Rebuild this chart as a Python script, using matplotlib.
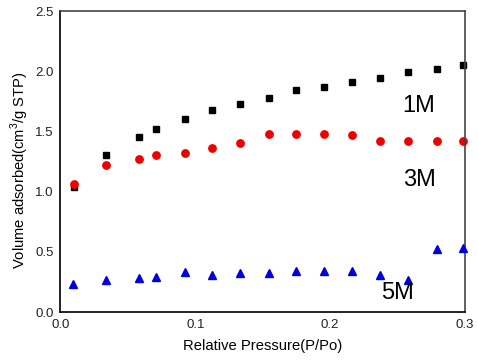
import matplotlib
matplotlib.use("Agg")
import matplotlib.pyplot as plt

plt.rcParams['font.family'] = ['Liberation Sans', 'DejaVu Sans']
plt.rcParams['mathtext.fontset'] = 'custom'
plt.rcParams['mathtext.rm'] = 'Liberation Sans'

p_1m = [0.010, 0.034, 0.0585, 0.071, 0.0926, 0.1126, 0.133, 0.155, 0.175, 0.1955, 0.216, 0.237, 0.258, 0.279, 0.2985]
v_1m = [1.04, 1.30, 1.45, 1.52, 1.60, 1.68, 1.73, 1.78, 1.84, 1.87, 1.91, 1.94, 1.99, 2.02, 2.05]

p_3m = [0.010, 0.034, 0.0585, 0.071, 0.0926, 0.1126, 0.133, 0.155, 0.175, 0.1955, 0.216, 0.237, 0.258, 0.279, 0.2985]
v_3m = [1.06, 1.22, 1.27, 1.30, 1.32, 1.36, 1.40, 1.48, 1.48, 1.48, 1.47, 1.42, 1.42, 1.42, 1.42]

p_5m = [0.0096, 0.034, 0.0585, 0.071, 0.0926, 0.1126, 0.133, 0.155, 0.175, 0.1955, 0.216, 0.237, 0.258, 0.279, 0.2985]
v_5m = [0.23, 0.27, 0.28, 0.29, 0.33, 0.31, 0.32, 0.32, 0.34, 0.34, 0.34, 0.31, 0.27, 0.52, 0.53]

series_labels = ["1M", "3M", "5M"]
xticks = [0.0, 0.1, 0.2, 0.3]
yticks = [0.0, 0.5, 1.0, 1.5, 2.0, 2.5]

fig = plt.figure(figsize=(4.78, 3.61), dpi=100)
ax = fig.add_axes([0.1265, 0.1357, 0.8463, 0.8338])

ax.plot(p_1m, v_1m, 's', color='black', markersize=4.7, linestyle='none', clip_on=False)
ax.plot(p_3m, v_3m, 'o', color='#ee0000', markersize=5.3, linestyle='none', clip_on=False)
ax.plot(p_5m, v_5m, '^', color='#0000dd', markersize=5.6, linestyle='none', clip_on=False, zorder=3)

ax.set_xlim(0, 0.3)
ax.set_ylim(0, 2.5)
ax.set_xticks(xticks)
ax.set_xticklabels([f"{t:.1f}" for t in xticks])
ax.set_yticks(yticks)
ax.set_yticklabels([f"{t:.1f}" for t in yticks])
ax.tick_params(length=0, labelsize=9.5, pad=5, colors='#222222')

for s in ['left', 'bottom']:
    ax.spines[s].set_linewidth(1.3)
    ax.spines[s].set_color('#111111')
for s in ['top', 'right']:
    ax.spines[s].set_linewidth(1.2)
    ax.spines[s].set_color('#444444')

ax.set_xlabel("Relative Pressure(P/Po)", fontsize=10.6, labelpad=6)
ax.set_ylabel("Volume adsorbed(cm$^{3}$/g STP)", fontsize=10.6)
ax.yaxis.set_label_coords(-0.072, 0.473)

ax.text(0.2655, 1.71, series_labels[0], fontsize=17, ha='center', va='center')
ax.text(0.2665, 1.10, series_labels[1], fontsize=17, ha='center', va='center')
ax.text(0.2500, 0.16, series_labels[2], fontsize=17, ha='center', va='center')

fig.savefig("out.png", dpi=100)
